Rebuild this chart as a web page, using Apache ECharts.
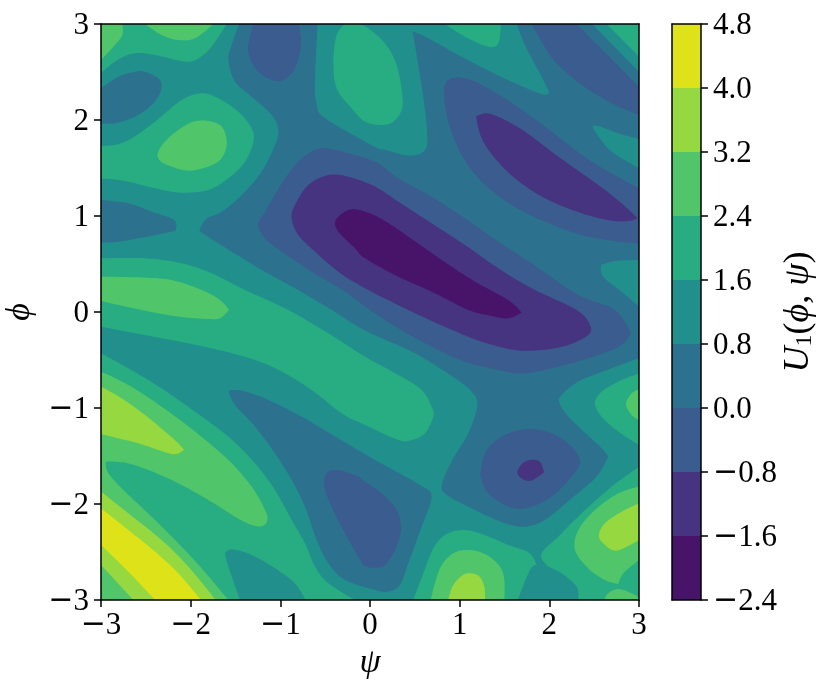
<!DOCTYPE html>
<html>
<head>
<meta charset="utf-8">
<title>U1 contour</title>
<script src="https://cdn.jsdelivr.net/npm/echarts@6/dist/echarts.min.js"></script>
<style>
  html, body { margin: 0; padding: 0; background: #fff; }
  #chart { width: 830px; height: 689px; }
</style>
</head>
<body>
<div id="chart"></div>
<script>
// contour levels of the colorbar
var levels = [-2.4, -1.6, -0.8, 0, 0.8, 1.6, 2.4, 3.2, 4, 4.8];
var bandColors = ['#48146a', '#463480', '#3a5c8e', '#2c728e', '#21908c', '#27ad81', '#51c56a', '#95d840', '#dde318'];

// contour outlines, [psi, phi]
// band 0.8..1.6 is the background
var band4Base = [[[-3, 3], [3, 3], [3, -3], [-3, -3]]];

// 0..0.8
var band3 = [
  [[-1.461, 3], [-0.584, 3], [-0.614, 2.4], [-0.595, 2.17], [-0.502, 2.02], [0.056, 1.72], [0.167, 1.69], [0.427, 1.63], [0.594, 1.67], [0.639, 1.81], [0.595, 2.23], [0.476, 2.92], [0.613, 2.87], [1.059, 2.64], [1.505, 2.43], [1.914, 2.27], [1.996, 2.29], [1.914, 2.45], [1.728, 2.78], [1.635, 3], [2.479, 3], [3, 2.5], [3, -0.482], [2.546, -0.639], [2.323, -0.725], [2.137, -0.864], [2.118, -0.958], [2.248, -1.125], [2.62, -1.455], [2.628, -1.559], [2.509, -1.733], [2.248, -1.941], [1.951, -2.166], [1.728, -2.236], [1.505, -2.201], [1.208, -2.08], [0.855, -1.906], [0.806, -1.784], [0.929, -1.524], [1.096, -1.264], [1.197, -0.969], [1.133, -0.83], [0.948, -0.691], [0.502, -0.43], [-0.056, -0.194], [-0.428, 0.021], [-0.837, 0.247], [-1.208, 0.438], [-1.692, 0.715], [-1.904, 0.844], [-1.829, 0.969], [-1.654, 1.045], [-1.431, 1.219], [-1.208, 1.462], [-1.06, 1.74], [-1.023, 1.896], [-1.097, 2.052], [-1.32, 2.243], [-1.506, 2.4], [-1.58, 2.625], [-1.543, 2.781]],
  [[-1.58, -0.819], [-1.431, -0.819], [-1.134, -0.916], [-0.762, -1.09], [-0.354, -1.316], [0.056, -1.541], [0.557, -1.802], [0.687, -1.923], [0.576, -2.236], [0.427, -2.618], [0.334, -2.843], [0.204, -2.913], [0.056, -2.896], [-0.279, -2.791], [-0.465, -2.618], [-0.595, -2.375], [-0.725, -2.03], [-0.874, -1.75], [-1.06, -1.472], [-1.283, -1.194], [-1.506, -0.968]],
  [[-3, 1.167], [-2.695, 1.132], [-2.435, 1.045], [-2.182, 0.958], [-2.171, 0.844], [-2.584, 0.767], [-2.844, 0.726], [-3, 0.726]],
  [[-3, 2.33], [-2.807, 2.451], [-2.621, 2.503], [-2.509, 2.503], [-2.342, 2.417], [-2.335, 2.295], [-2.435, 2.156], [-2.621, 2.035], [-2.844, 1.965], [-3, 1.965]]
];

// -0.8..0
var band2 = [
  [[-1.246, 0.906], [-1.171, 1.045], [-0.948, 1.392], [-0.762, 1.6], [-0.577, 1.698], [-0.391, 1.688], [0.056, 1.566], [0.316, 1.392], [0.687, 1.2], [1.059, 0.976], [1.431, 0.733], [1.803, 0.507], [2.323, 0.177], [2.732, 0.021], [2.91, -0.222], [2.806, -0.344], [2.546, -0.448], [2.174, -0.552], [1.728, -0.639], [1.431, -0.604], [1.059, -0.517], [0.687, -0.361], [0.316, -0.17], [0, 0.021], [-0.279, 0.212], [-0.651, 0.42], [-0.985, 0.629], [-1.171, 0.767]],
  [[0.825, 2.295], [0.873, 2.417], [1.022, 2.441], [1.245, 2.365], [1.617, 2.156], [2.026, 1.879], [2.472, 1.566], [3, 1.288], [3, 0.715], [2.769, 0.733], [2.36, 0.802], [1.951, 0.941], [1.579, 1.115], [1.245, 1.358], [1.022, 1.635], [0.873, 1.983]],
  [[1.803, 3], [2.304, 3], [3, 2.347], [3, 2.052], [2.695, 2.174], [2.36, 2.365], [2.063, 2.608], [1.914, 2.816]],
  [[-1.301, 3], [-1.357, 2.781], [-1.338, 2.642], [-1.246, 2.503], [-1.097, 2.417], [-0.967, 2.417], [-0.837, 2.538], [-0.77, 2.781], [-0.792, 3]],
  [[1.234, -1.663], [1.301, -1.437], [1.505, -1.281], [1.765, -1.219], [2.026, -1.264], [2.248, -1.403], [2.341, -1.559], [2.248, -1.715], [2.026, -1.923], [1.765, -2.038], [1.542, -2.027], [1.319, -1.889], [1.245, -1.75]],
  [[-0.51, -1.819], [-0.484, -1.68], [-0.354, -1.646], [-0.131, -1.715], [-0.056, -1.767], [0.13, -1.889], [0.297, -2.062], [0.345, -2.271], [0.279, -2.479], [0.167, -2.635], [0.056, -2.663], [-0.056, -2.646], [-0.13, -2.548], [-0.279, -2.305], [-0.428, -2.028]]
];

// -1.6..-0.8
var band1 = [
  [[-0.874, 0.976], [-0.837, 1.115], [-0.688, 1.323], [-0.465, 1.427], [-0.242, 1.41], [0.056, 1.306], [0.316, 1.149], [0.687, 0.924], [1.059, 0.698], [1.431, 0.455], [1.803, 0.247], [2.304, 0.021], [2.453, -0.135], [2.434, -0.239], [2.211, -0.344], [1.914, -0.396], [1.617, -0.396], [1.245, -0.309], [0.873, -0.17], [0.427, 0.021], [-0.056, 0.247], [-0.354, 0.42], [-0.614, 0.629], [-0.8, 0.802]],
  [[1.182, 2.035], [1.301, 2.07], [1.468, 2.017], [1.728, 1.879], [2.1, 1.618], [2.546, 1.323], [2.806, 1.132], [2.985, 0.976], [2.88, 0.948], [2.695, 0.951], [2.36, 1.028], [1.951, 1.184], [1.617, 1.392], [1.394, 1.601], [1.245, 1.809]],
  [[1.643, -1.67], [1.691, -1.587], [1.784, -1.541], [1.895, -1.559], [1.94, -1.67], [1.877, -1.715], [1.784, -1.76], [1.691, -1.733]]
];

// -2.4..-1.6
var band0 = [
  [[-0.383, 0.958], [-0.242, 1.063], [-0.093, 1.056], [0.13, 0.969], [0.427, 0.785], [0.799, 0.542], [1.171, 0.316], [1.542, 0.125], [1.691, -0.007], [1.542, -0.066], [1.357, -0.042], [1.096, 0.021], [0.687, 0.212], [0.316, 0.368], [-0.056, 0.559], [-0.168, 0.663], [-0.354, 0.837]]
];

// 0.8..1.6 pockets lying inside the 0..0.8 region on the right
var band4Pockets = [
  [[2.479, 1.931], [2.546, 1.938], [2.769, 1.861], [3, 1.802], [3, 1.497], [2.695, 1.67], [2.564, 1.809]],
  [[2.576, 0.49], [2.732, 0.531], [3, 0.542], [3, 0.056], [2.806, 0.212], [2.601, 0.368]]
];

// 1.6..2.4
var band5 = [
  [[-3, 3], [-1.6, 3], [-1.766, 2.764], [-1.915, 2.642], [-2.063, 2.608], [-2.398, 2.677], [-2.639, 2.694], [-2.844, 2.608], [-3, 2.486]],
  [[-3, 1.733], [-2.844, 1.74], [-2.658, 1.809], [-2.398, 1.983], [-2.1, 2.208], [-1.877, 2.278], [-1.692, 2.226], [-1.469, 2.087], [-1.32, 1.913], [-1.301, 1.774], [-1.394, 1.566], [-1.58, 1.392], [-1.803, 1.271], [-2.1, 1.243], [-2.398, 1.288], [-2.695, 1.358], [-2.918, 1.386], [-3, 1.386]],
  [[-0.279, 3], [-0.112, 3], [-0.019, 2.955], [0.167, 2.799], [0.297, 2.573], [0.36, 2.26], [0.353, 2.104], [0.26, 1.983], [0.13, 1.948], [-0.056, 1.983], [-0.205, 2.122], [-0.372, 2.33], [-0.409, 2.608], [-0.372, 2.885]],
  [[0.836, 3], [1.059, 2.868], [1.319, 2.764], [1.431, 2.799], [1.46, 3]],
  [[2.639, 3], [3, 3], [3, 2.66]],
  [[-3, 0.559], [-2.509, 0.559], [-2.1, 0.507], [-1.766, 0.403], [-1.394, 0.229], [-0.911, 0.021], [-0.465, -0.222], [-0.056, -0.465], [0.316, -0.656], [0.576, -0.812], [0.687, -0.986], [0.706, -1.09], [0.613, -1.264], [0.464, -1.333], [0.316, -1.333], [-0.056, -1.177], [-0.317, -1.055], [-0.651, -0.812], [-0.985, -0.621], [-1.283, -0.5], [-1.766, -0.378], [-2.324, -0.274], [-3, -0.153]],
  [[-3, -0.43], [-2.695, -0.587], [-2.324, -0.795], [-1.952, -1.038], [-1.58, -1.298], [-1.283, -1.576], [-1.06, -1.854], [-0.874, -2.166], [-0.725, -2.41], [-0.614, -2.652], [-0.465, -2.826], [-0.168, -3], [-0.718, -3], [-0.837, -2.826], [-1.06, -2.67], [-1.32, -2.531], [-1.543, -2.472], [-1.617, -2.514], [-1.58, -2.652], [-1.45, -3], [-3, -3]],
  [[0.483, -3], [0.594, -2.722], [0.706, -2.462], [0.836, -2.323], [1.022, -2.271], [1.245, -2.312], [1.542, -2.427], [1.773, -2.507], [1.858, -2.635], [1.784, -2.687], [1.646, -3]],
  [[3, -1.611], [2.695, -1.819], [2.36, -2.097], [2.1, -2.34], [1.914, -2.514], [1.97, -2.635], [2.137, -2.722], [2.304, -2.861], [2.323, -3], [3, -3]],
  [[3, -0.639], [2.769, -0.725], [2.583, -0.83], [2.509, -0.951], [2.583, -1.09], [2.769, -1.246], [3, -1.385]]
];

// 2.4..3.2
var band6 = [
  [[-3, 3], [-2.762, 3], [-2.762, 2.885], [-2.862, 2.764], [-3, 2.625]],
  [[-2.509, 3], [-2.324, 2.885], [-2.138, 2.833], [-1.952, 2.851], [-1.747, 3]],
  [[-2.353, 1.688], [-2.212, 1.844], [-1.989, 1.976], [-1.803, 1.99], [-1.654, 1.931], [-1.599, 1.792], [-1.617, 1.67], [-1.692, 1.566], [-1.84, 1.504], [-2.026, 1.472], [-2.212, 1.514], [-2.35, 1.583]],
  [[-3, 0.368], [-2.584, 0.361], [-2.212, 0.333], [-1.877, 0.229], [-1.673, 0.125], [-1.573, 0.021], [-1.673, -0.066], [-1.803, -0.073], [-2.138, -0.048], [-2.547, 0.021], [-3, 0.115]],
  [[-3, -0.621], [-2.695, -0.76], [-2.324, -0.986], [-1.952, -1.246], [-1.58, -1.541], [-1.32, -1.819], [-1.171, -2.062], [-1.145, -2.166], [-1.197, -2.229], [-1.32, -2.219], [-1.506, -2.132], [-1.803, -1.958], [-2.138, -1.784], [-2.472, -1.646], [-2.732, -1.569], [-2.948, -1.559], [-2.918, -1.68], [-2.732, -1.871], [-2.435, -2.132], [-2.138, -2.41], [-1.877, -2.67], [-1.58, -3], [-3, -3]],
  [[0.676, -3], [0.78, -2.67], [0.929, -2.514], [1.115, -2.479], [1.301, -2.531], [1.449, -2.652], [1.498, -2.792], [1.498, -3]],
  [[3, -1.819], [2.769, -1.889], [2.509, -2.062], [2.323, -2.271], [2.286, -2.479], [2.434, -2.67], [2.62, -2.792], [2.769, -2.833], [2.825, -2.722], [3, -2.583]],
  [[2.613, -3], [2.657, -2.93], [2.769, -2.885], [2.918, -2.93], [3, -2.972], [3, -3]],
  [[3, -0.805], [2.918, -0.847], [2.854, -0.958], [2.918, -1.073], [3, -1.125]]
];

// 3.2..4
var band7 = [
  [[-3, -0.778], [-2.77, -0.899], [-2.509, -1.073], [-2.286, -1.246], [-2.138, -1.368], [-2.074, -1.437], [-2.156, -1.479], [-2.268, -1.465], [-2.584, -1.368], [-2.807, -1.316], [-3, -1.271]],
  [[-3, -1.871], [-2.695, -2.097], [-2.324, -2.375], [-2.026, -2.652], [-1.721, -3], [-2.639, -3], [-3, -2.635]],
  [[0.873, -3], [0.929, -2.843], [1.059, -2.729], [1.208, -2.746], [1.275, -2.861], [1.282, -3]],
  [[3, -1.993], [2.806, -2.08], [2.62, -2.201], [2.553, -2.323], [2.602, -2.41], [2.75, -2.486], [3, -2.375]]
];

// 4..4.8
var band8 = [
  [[-3, -2.045], [-2.695, -2.271], [-2.398, -2.496], [-2.138, -2.722], [-1.885, -3], [-2.398, -3], [-2.695, -2.705], [-3, -2.427]]
];

// painting order: background, then lows going down, then highs going up
var regions = [];
function addBand(polys, colorIndex) {
  polys.forEach(function (p) {
    regions.push({ points: p, color: bandColors[colorIndex] });
  });
}
addBand(band4Base, 4);
addBand(band3, 3);
addBand(band2, 2);
addBand(band1, 1);
addBand(band0, 0);
addBand(band4Pockets, 4);
addBand(band5, 5);
addBand(band6, 6);
addBand(band7, 7);
addBand(band8, 8);

var serif = '"Liberation Serif", "DejaVu Serif", serif';
var tickFont = {
  fontFamily: serif,
  fontSize: 31,
  color: '#000',
  rich: {
    m: { fontFamily: '"DejaVu Sans"', fontSize: 30, color: '#000' },
    d: { fontFamily: serif, fontSize: 31, color: '#000' }
  }
};
var labelFont = { fontFamily: serif, fontSize: 34, color: '#000' };

// the wide minus of the picture comes from DejaVu
function minusLabel(v) {
  var s = String(v);
  if (s.charAt(0) === '-') {
    return '{m|\u2212}{d|' + s.slice(1) + '}';
  }
  return '{d|' + s + '}';
}

// round the hand-read outlines in pixel space, leaving edges and tips sharp
function smoothOutline(pts, raw) {
  var n = pts.length;
  var out = [];
  function isSharp(i) {
    var r = raw[i];
    if (Math.abs(r[0]) === 3 || Math.abs(r[1]) === 3) return true;
    var a = pts[(i + n - 1) % n], b = pts[i], c = pts[(i + 1) % n];
    var v1 = Math.atan2(b[1] - a[1], b[0] - a[0]);
    var v2 = Math.atan2(c[1] - b[1], c[0] - b[0]);
    var d = Math.abs(v2 - v1);
    if (d > Math.PI) d = 2 * Math.PI - d;
    return d > 1.25;
  }
  function tangent(i) {
    if (isSharp(i)) return [0, 0];
    var a = pts[(i + n - 1) % n], c = pts[(i + 1) % n];
    return [(c[0] - a[0]) * 0.5, (c[1] - a[1]) * 0.5];
  }
  for (var i = 0; i < n; i++) {
    var p0 = pts[i], p1 = pts[(i + 1) % n];
    var m0 = tangent(i), m1 = tangent((i + 1) % n);
    for (var k = 0; k < 8; k++) {
      var t = k / 8, t2 = t * t, t3 = t2 * t;
      var h00 = 2 * t3 - 3 * t2 + 1, h10 = t3 - 2 * t2 + t, h01 = -2 * t3 + 3 * t2, h11 = t3 - t2;
      out.push([
        h00 * p0[0] + h10 * m0[0] + h01 * p1[0] + h11 * m1[0],
        h00 * p0[1] + h10 * m0[1] + h01 * p1[1] + h11 * m1[1]
      ]);
    }
  }
  return out;
}

// a frame line with no ticks, for the sides without labels
function frameAxis(gridIndex, pos, min, max) {
  return {
    type: 'value', gridIndex: gridIndex, position: pos, min: min, max: max, z: 5,
    axisLine: { show: true, onZero: false, lineStyle: { color: '#000', width: 1.5 } },
    axisTick: { show: false }, axisLabel: { show: false }, splitLine: { show: false }
  };
}

var chart = echarts.init(document.getElementById('chart'), null, { renderer: 'canvas' });

chart.setOption({
  backgroundColor: '#fff',
  animation: false,
  grid: [
    { left: 101, top: 24, width: 538, height: 576, outerBoundsMode: 'none' },
    { left: 672, top: 24, width: 29, height: 576, outerBoundsMode: 'none' }
  ],
  xAxis: [
    {
      type: 'value', gridIndex: 0, min: -3, max: 3, interval: 1, position: 'bottom', z: 5,
      name: '\u03c8', nameLocation: 'middle', nameGap: 42,
      nameTextStyle: Object.assign({ fontStyle: 'italic' }, labelFont),
      axisLine: { show: true, onZero: false, lineStyle: { color: '#000', width: 1.5 } },
      axisTick: { show: true, length: 7, lineStyle: { color: '#000', width: 1.5 } },
      axisLabel: Object.assign({ margin: 10, formatter: minusLabel, hideOverlap: false }, tickFont),
      splitLine: { show: false }
    },
    frameAxis(0, 'top', -3, 3),
    frameAxis(1, 'bottom', 0, 1),
    frameAxis(1, 'top', 0, 1)
  ],
  yAxis: [
    {
      type: 'value', gridIndex: 0, min: -3, max: 3, interval: 1, position: 'left', z: 5,
      name: '\u03d5', nameLocation: 'middle', nameGap: 58,
      nameTextStyle: Object.assign({ fontStyle: 'italic' }, labelFont),
      axisLine: { show: true, onZero: false, lineStyle: { color: '#000', width: 1.5 } },
      axisTick: { show: true, length: 7, lineStyle: { color: '#000', width: 1.5 } },
      axisLabel: Object.assign({ margin: 12, padding: [3, 0, 0, 0], formatter: minusLabel }, tickFont),
      splitLine: { show: false }
    },
    frameAxis(0, 'right', -3, 3),
    {
      type: 'value', gridIndex: 1, min: -2.4, max: 4.8, interval: 0.8, position: 'right', z: 5,
      name: '{i|U}{s|1}{r|(}{i|\u03d5}{r|, }{i|\u03c8}{r|)}', nameLocation: 'middle', nameGap: 77,
      nameTextStyle: Object.assign({
        rich: {
          i: { fontFamily: serif, fontSize: 36, fontStyle: 'italic', color: '#000' },
          r: { fontFamily: serif, fontSize: 36, color: '#000' },
          s: { fontFamily: serif, fontSize: 24, color: '#000', verticalAlign: 'bottom' }
        }
      }, labelFont),
      axisLine: { show: true, onZero: false, lineStyle: { color: '#000', width: 1.5 } },
      axisTick: { show: true, length: 7, lineStyle: { color: '#000', width: 1.5 } },
      axisLabel: Object.assign({
        margin: 12,
        padding: [3, 0, 0, 0],
        formatter: function (v) { return minusLabel(v.toFixed(1)); }
      }, tickFont),
      splitLine: { show: false }
    },
    frameAxis(1, 'left', -2.4, 4.8)
  ],
  series: [
    {
      type: 'custom',
      xAxisIndex: 0,
      yAxisIndex: 0,
      clip: true,
      silent: true,
      data: regions.map(function (r, i) { return [i]; }),
      renderItem: function (params, api) {
        var r = regions[params.dataIndex];
        var pts = r.points.map(function (p) { return api.coord(p); });
        return {
          type: 'polygon',
          shape: { points: smoothOutline(pts, r.points) },
          style: { fill: r.color }
        };
      }
    },
    {
      type: 'custom',
      xAxisIndex: 2,
      yAxisIndex: 2,
      clip: true,
      silent: true,
      data: bandColors.map(function (c, i) { return [levels[i], levels[i + 1]]; }),
      renderItem: function (params, api) {
        var a = api.coord([0, api.value(0)]);
        var b = api.coord([1, api.value(1)]);
        return {
          type: 'rect',
          shape: { x: a[0], y: b[1], width: b[0] - a[0], height: a[1] - b[1] },
          style: { fill: bandColors[params.dataIndex] }
        };
      },
      encode: { y: [0, 1] }
    }
  ]
});
</script>
</body>
</html>
